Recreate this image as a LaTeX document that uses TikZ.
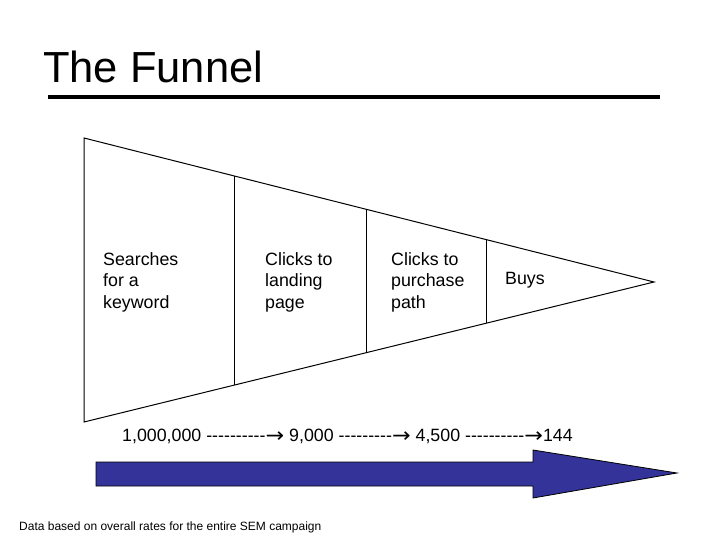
\documentclass[tikz,border=0pt]{standalone}
\usepackage{fontspec}
\setmainfont{Liberation Sans}
\newfontfamily\cifrasfont{Liberation Sans}[Ligatures=TeXOff]
\newfontfamily\flechafont{DejaVu Sans}
\usetikzlibrary{calc}
\definecolor{funnelAzul}{HTML}{333399}
\newcommand{\flecha}{{\flechafont\raisebox{-1.2pt}{\scalebox{1.25}[1.15]{→}}}}

\begin{document}
\begin{tikzpicture}[x=1pt,y=-1pt]
        \useasboundingbox (0,0) rectangle (720,540);
        % titulo y raya
        \node[font=\fontsize{43.5}{50}\selectfont,anchor=base west,inner sep=0] (titulo) at (43,83) {The Funnel};
        \draw[line width=3.5pt] (48,97)--(660,97);
        % embudo con tres cortes
        \coordinate (arriba) at (84,138); \coordinate (abajo) at (84,422); \coordinate (punta) at (654,282);
        \draw[line width=1pt] (arriba)--(punta)--(abajo)--cycle;
        \foreach \x in {234,366,486}
          {\draw[line width=1pt] ($(arriba)!{(\x-84)/570}!(punta)$)--($(abajo)!{(\x-84)/570}!(punta)$);}
        \foreach \x/\txt/\nombre in {103/{Searches\\for a\\keyword}/etapa1,265/{Clicks to\\landing\\page}/etapa2,391/{Clicks to\\purchase\\path}/etapa3}
          {\node[font=\fontsize{17.8}{21.5}\selectfont,align=left,anchor=west,inner sep=0] (\nombre) at (\x,282) {\txt};}
        \node[font=\fontsize{17.8}{21.5}\selectfont,anchor=west,inner sep=0] (etapa4) at (505,280) {Buys};
        % cifras y flecha gorda
        \node[font=\cifrasfont\fontsize{17.8}{21.5}\selectfont,anchor=west,inner sep=0] (cifras) at (122,436)
          {1,000,000 ----------\flecha\ 9,000 ---------\flecha\ 4,500 ----------\flecha144};
        \fill[funnelAzul,draw=black,line width=0.8pt] (96,462)--(533,462)--(533,450)--(677,473)--(533,498)--(533,486)--(96,486)--cycle;
        \node[font=\fontsize{12}{14}\selectfont,anchor=west,inner sep=0] (nota) at (19,527) {Data based on overall rates for the entire SEM campaign};
      \end{tikzpicture}
\end{document}
